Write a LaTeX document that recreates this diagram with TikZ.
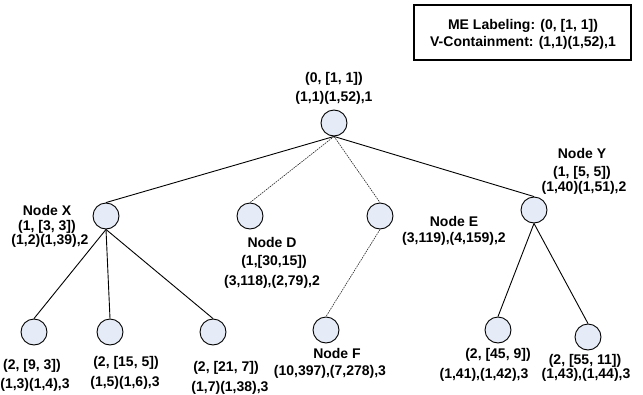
\documentclass[tikz,border=0pt]{standalone}
\usepackage{fontspec}
\setmainfont{Liberation Sans}
\definecolor{nodefill}{RGB}{230,236,247}
\begin{document}
\begin{tikzpicture}[x=1pt,y=-1pt,
  vert/.style={circle,draw=black,line width=0.9pt,fill=nodefill,minimum size=26pt,inner sep=0pt},
  lbl/.style={anchor=base,inner sep=0pt,font=\fontsize{14}{14}\selectfont\bfseries},
  edge/.style={line width=0.9pt,draw=black},
  dedge/.style={line width=0.6pt,draw=black!85,dash pattern=on 1.6pt off 0.9pt}]
\useasboundingbox (0,0) rectangle (643,394);
% legend box
\node[draw=black,line width=1.3pt,minimum width=217pt,minimum height=55pt,inner sep=0pt] (box) at (522.5,32.5) {};
\node[lbl] (box1) at (523,29) {ME Labeling: (0, [1, 1])};
\node[lbl] (box2) at (523,46) {V-Containment: (1,1)(1,52),1};
% vertices
\node[vert] (r) at (334,123) {};
\node[vert] (x) at (106,216) {};
\node[vert] (d) at (250,216) {};
\node[vert] (e) at (380,216) {};
\node[vert] (y) at (534,210) {};
\node[vert] (x1) at (34,332) {};
\node[vert] (x2) at (110,332) {};
\node[vert] (x3) at (213,332) {};
\node[vert] (f) at (326,330) {};
\node[vert] (y1) at (498,330) {};
\node[vert] (y2) at (588,337) {};
% edges
\draw[edge] (r.south) -- (x.north);
\draw[edge] (r.south) -- (y.north);
\draw[dedge] (r.south) -- (d.north);
\draw[dedge] (r.south) -- (e.north);
\draw[dedge] (e.south) -- (f.north);
\draw[edge] (x.south) -- (x1.north);
\draw[edge] (x.south) -- (x2.north);
\draw[edge] (x.south) -- (x3.north);
\draw[edge] (y.south) -- (y1.north);
\draw[edge] (y.south) -- (y2.north);
% labels
\node[lbl] (lr1) at (334,82) {(0, [1, 1])};
\node[lbl] (lr2) at (334,101) {(1,1)(1,52),1};
\node[lbl] (lx1) at (47,215) {Node X};
\node[lbl] (lx2) at (47,230) {(1, [3, 3])};
\node[lbl] (lx3) at (50,244) {(1,2)(1,39),2};
\node[lbl] (ld1) at (272,247) {Node D};
\node[lbl] (ld2) at (274,265) {(1,[30,15])};
\node[lbl] (ld3) at (272,285) {(3,118),(2,79),2};
\node[lbl] (le1) at (454,226) {Node E};
\node[lbl] (le2) at (454,242) {(3,119),(4,159),2};
\node[lbl] (ly1) at (582,158) {Node Y};
\node[lbl] (ly2) at (582,176) {(1, [5, 5])};
\node[lbl] (ly3) at (584,191) {(1,40)(1,51),2};
\node[lbl] (lx11) at (32,369) {(2, [9, 3])};
\node[lbl] (lx12) at (35,388) {(1,3)(1,4),3};
\node[lbl] (lx21) at (126,366) {(2, [15, 5])};
\node[lbl] (lx22) at (125,386) {(1,5)(1,6),3};
\node[lbl] (lx31) at (226,371) {(2, [21, 7])};
\node[lbl] (lx32) at (230,391) {(1,7)(1,38),3};
\node[lbl] (lf1) at (337,358) {Node F};
\node[lbl] (lf2) at (330,375) {(10,397),(7,278),3};
\node[lbl] (ly11) at (498,358) {(2, [45, 9])};
\node[lbl] (ly12) at (484,378) {(1,41),(1,42),3};
\node[lbl] (ly21) at (585,364) {(2, [55, 11])};
\node[lbl] (ly22) at (586,378) {(1,43),(1,44),3};
\end{tikzpicture}
\end{document}
